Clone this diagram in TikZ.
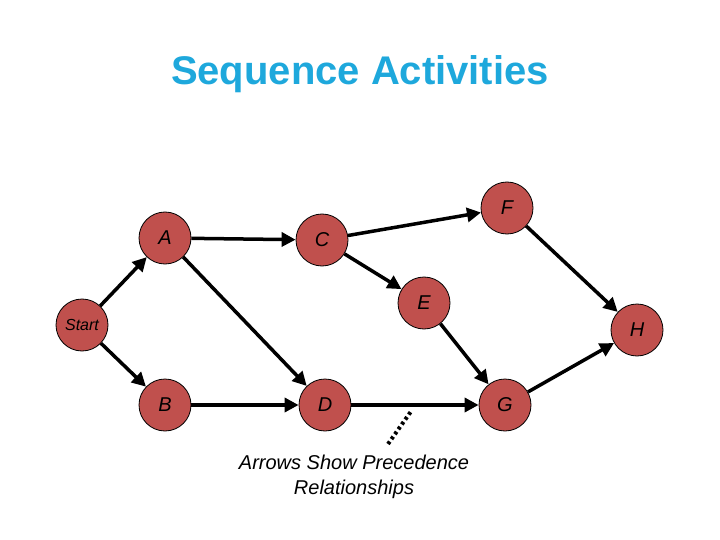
\documentclass[tikz,border=0pt]{standalone}
\usepackage{fontspec}
\setmainfont{Liberation Sans}
\usetikzlibrary{arrows.meta}
\definecolor{nodefill}{HTML}{C0504D}
\definecolor{tcol}{HTML}{1EA8DC}
\begin{document}
\begin{tikzpicture}[x=1pt,y=-1pt,
  act/.style={circle,draw=black,line width=0.8pt,fill=nodefill,minimum size=52pt,inner sep=0pt,font=\itshape\fontsize{20}{22}\selectfont},
  arr/.style={line width=3.5pt,-{Triangle[length=14pt,width=14pt]}}]
\useasboundingbox (0,0) rectangle (720,540);
\node[font=\bfseries\fontsize{40}{44}\selectfont,text=tcol] (title) at (360,74) {Sequence Activities};
\node[act] (S) at (82,325) {};
\node[font=\itshape\fontsize{16}{18}\selectfont] (SL) at (82,325) {Start};
\node[act] (A) at (165,238) {A};
\node[act] (C) at (322,240) {C};
\node[act] (F) at (507,208) {F};
\node[act] (E) at (424,303) {E};
\node[act] (H) at (637,330) {H};
\node[act] (B) at (165,405) {B};
\node[act] (D) at (325,405) {D};
\node[act] (G) at (505,405) {G};
\draw[arr] (S) -- (A);
\draw[arr] (S) -- (B);
\draw[arr] (A) -- (C);
\draw[arr] (A) -- (D);
\draw[arr] (B) -- (D);
\draw[arr] (C) -- (F);
\draw[arr] (C) -- (E);
\draw[arr] (E) -- (G);
\draw[arr] (D) -- (G);
\draw[arr] (F) -- (H);
\draw[arr] (G) -- (H);
\coordinate (d1) at (388,444);
\coordinate (d2) at (412,410);
\draw[line width=4pt,dash pattern=on 3pt off 3pt] (d1) -- (d2);
\node[align=center,font=\itshape\fontsize{20}{25}\selectfont] (lab) at (354,477) {Arrows Show Precedence\\Relationships};
\end{tikzpicture}
\end{document}
